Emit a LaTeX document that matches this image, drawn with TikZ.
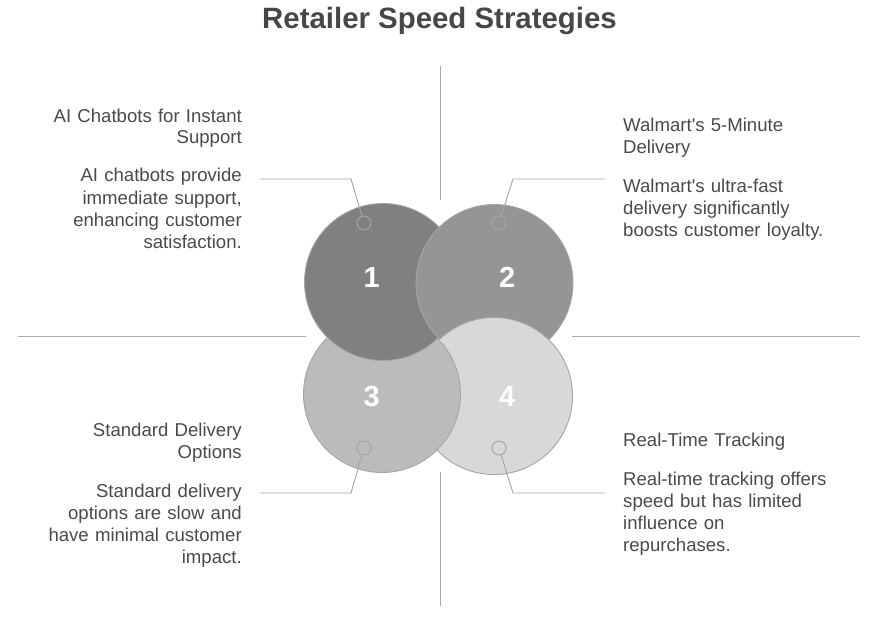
\documentclass[tikz,border=0pt]{standalone}
\usepackage{fontspec}
\setmainfont{Liberation Sans}[Ligatures=TeXOff]
\definecolor{txt}{HTML}{4A4A4A}
\definecolor{ttl}{HTML}{474747}
\definecolor{cA}{HTML}{808080}
\definecolor{cB}{HTML}{959595}
\definecolor{cC}{HTML}{BBBBBB}
\definecolor{cD}{HTML}{D8D8D8}
\definecolor{edge}{HTML}{A5A5A5}
\definecolor{axis}{HTML}{ABABAB}
\begin{document}
\begin{tikzpicture}[x=1pt,y=-1pt,
  bigc/.style={circle,draw=edge,line width=0.9pt,minimum size=157pt,inner sep=0pt},
  numtxt/.style={text=white,font=\fontsize{29}{30}\selectfont\bfseries,anchor=base},
  marker/.style={circle,draw=edge,line width=0.9pt,minimum size=14pt,inner sep=0pt},
  leader/.style={draw=edge,line width=0.9pt},
  axisline/.style={draw=axis,line width=0.9pt},
  headR/.style={text=txt,font=\fontsize{18.6}{21.5}\selectfont,align=right,text width=240pt,anchor=base east,inner sep=0pt},
  headL/.style={text=txt,font=\fontsize{18.6}{21.5}\selectfont,align=left,text width=240pt,anchor=base west,inner sep=0pt},
  descR/.style={text=txt,font=\fontsize{18.6}{22.3}\selectfont,align=right,text width=240pt,anchor=base east,inner sep=0pt},
  descL/.style={text=txt,font=\fontsize{18.6}{22.3}\selectfont,align=left,text width=240pt,anchor=base west,inner sep=0pt}]
\useasboundingbox (0,0) rectangle (877,622);
% title
\node[text=ttl,font=\fontsize{29.4}{31}\selectfont\bfseries,anchor=base] (title) at (439.5,28) {Retailer Speed Strategies};
% axes
\coordinate (vt) at (440,66); \coordinate (vtb) at (440,200);
\coordinate (vb) at (440,606); \coordinate (vbt) at (440,472);
\coordinate (hl) at (18,336); \coordinate (hlr) at (306,336);
\coordinate (hr) at (860,336); \coordinate (hrl) at (572,336);
\draw[axisline] (vt) -- (vtb);
\draw[axisline] (vbt) -- (vb);
\draw[axisline] (hl) -- (hlr);
\draw[axisline] (hrl) -- (hr);
% circles (cyclic overlap: 2 over 1, 1 over 3, 3 over 4, 4 over 2)
\node[bigc,fill=cD] (c4) at (494,396) {};
\node[bigc,fill=cC] (c3) at (382,394) {};
\node[bigc,fill=cA] (c1) at (383,282) {};
\node[bigc,fill=cB] (c2) at (494.5,283) {};
\begin{scope}
  \clip (c2.center) circle (79.4pt);
  \node[bigc,fill=cD] (c4top) at (c4.center) {};
\end{scope}
\node[numtxt] (n1) at (371.7,287.3) {1};
\node[numtxt] (n2) at (507.3,287.3) {2};
\node[numtxt] (n3) at (371.7,406) {3};
\node[numtxt] (n4) at (507.3,406) {4};
% markers
\node[marker] (m1) at (364,223) {};
\node[marker] (m2) at (499,223) {};
\node[marker] (m3) at (364,448) {};
\node[marker] (m4) at (499,448) {};
\coordinate (b1) at (351,179); \coordinate (e1) at (260,179);
\coordinate (b2) at (513,179); \coordinate (e2) at (605,179);
\coordinate (b3) at (351,493); \coordinate (e3) at (260,493);
\coordinate (b4) at (513,493); \coordinate (e4) at (605,493);
\draw[leader] (m1) -- (b1) -- (e1);
\draw[leader] (m2) -- (b2) -- (e2);
\draw[leader] (m3) -- (b3) -- (e3);
\draw[leader] (m4) -- (b4) -- (e4);
% texts
\node[headR] (h1) at (242,122.3) {AI Chatbots for Instant\\Support};
\node[descR] (d1) at (242,181.7) {AI chatbots provide\\immediate support,\\enhancing customer\\satisfaction.};
\node[headL] (h2) at (623,131.7) {Walmart's 5-Minute\\Delivery};
\node[descL] (d2) at (623,192) {Walmart's ultra-fast\\delivery significantly\\boosts customer loyalty.};
\node[headR] (h3) at (242,436.7) {Standard Delivery\\Options};
\node[descR] (d3) at (242,497) {Standard delivery\\options are slow and\\have minimal customer\\impact.};
\node[headL] (h4) at (623,446.7) {Real-Time Tracking};
\node[descL] (d4) at (623,485) {Real-time tracking offers\\speed but has limited\\influence on\\repurchases.};
\end{tikzpicture}
\end{document}
